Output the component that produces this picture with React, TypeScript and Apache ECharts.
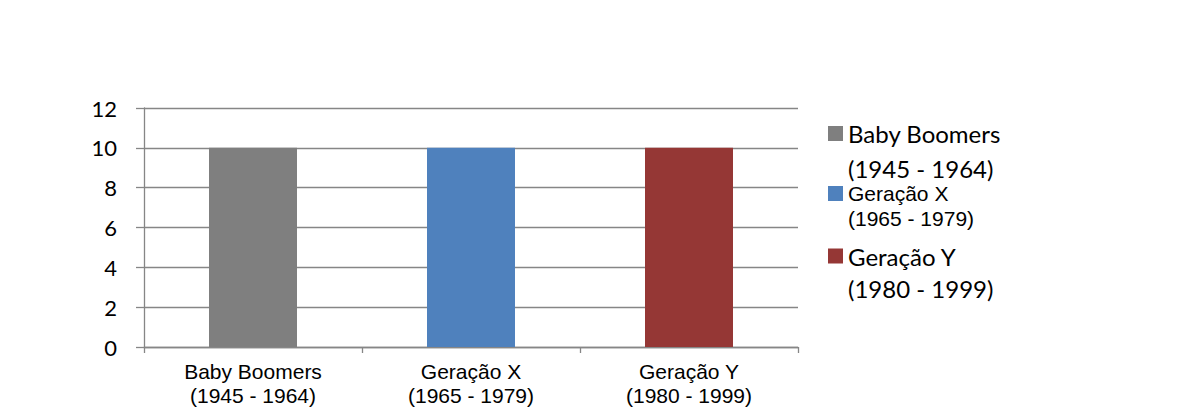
import React, { useEffect, useRef } from "react";
import * as echarts from "echarts";

const categories = ["Baby Boomers\n(1945 - 1964)", "Geração X\n(1965 - 1979)", "Geração Y\n(1980 - 1999)"];
const seriesNames = ["Baby Boomers\n(1945 - 1964)", "Geração X\n(1965 - 1979)", "Geração Y\n(1980 - 1999)"];
const seriesValues: (number | string)[][] = [
  [10, "-", "-"],
  ["-", 10, "-"],
  ["-", "-", 10],
];
const colors = ["#7f7f7f", "#4f81bd", "#953735"];
const yTicks = { min: 0, max: 12, interval: 2 };

export default function App() {
  const ref = useRef<HTMLDivElement>(null);
  useEffect(() => {
    document.body.style.margin = "0";
    const chart = echarts.init(ref.current!, null, { renderer: "svg" });
    const axisColor = "#868686";
    const legendStyles = [
      { top: 86.5, rich: { e: { lineHeight: 35, fontSize: 24, fontFamily: "Lato" }, a: { lineHeight: 35, fontSize: 24, fontFamily: "Lato", color: "#000" } } },
      { top: 158, rich: { e: { lineHeight: 25, fontSize: 21, fontFamily: "Liberation Sans" }, a: { lineHeight: 25, fontSize: 21, fontFamily: "Liberation Sans", color: "#000" } } },
      { top: 212, rich: { e: { lineHeight: 32, fontSize: 24, fontFamily: "Lato" }, a: { lineHeight: 32, fontSize: 24, fontFamily: "Lato", color: "#000" } } },
    ];
    chart.setOption({
      animation: false,
      backgroundColor: "#ffffff",
      grid: { left: 144, right: 381, top: 108, bottom: 67, containLabel: false },
      legend: seriesNames.map((n, i) => ({
        data: [n],
        left: 828,
        top: legendStyles[i].top,
        padding: 0,
        orient: "vertical",
        icon: "rect",
        itemWidth: 15,
        itemHeight: 15,
        selectedMode: false,
        formatter: (name: string) => {
          const parts = name.split("\n");
          return "{e| }\n" + parts.map((p) => "{a|" + p + "}").join("\n");
        },
        textStyle: { rich: legendStyles[i].rich },
      })),
      xAxis: {
        type: "category",
        data: categories,
        axisLine: { lineStyle: { color: axisColor, width: 1.3 } },
        axisTick: { show: true, length: 6, lineStyle: { color: axisColor, width: 1.3 } },
        axisLabel: {
          color: "#000",
          fontFamily: "Liberation Sans",
          fontSize: 21,
          lineHeight: 24,
          margin: 12,
        },
      },
      yAxis: {
        type: "value",
        min: yTicks.min,
        max: yTicks.max,
        interval: yTicks.interval,
        axisLine: { show: true, lineStyle: { color: axisColor, width: 1.3 } },
        axisTick: { show: true, length: 8, lineStyle: { color: axisColor, width: 1.3 } },
        splitLine: { show: true, lineStyle: { color: axisColor, width: 1.3 } },
        axisLabel: { color: "#000", fontFamily: "Lato", fontSize: 22, margin: 27 },
      },
      series: seriesNames.map((n, i) => ({
        name: n,
        type: "bar",
        stack: "all",
        barWidth: 88,
        data: seriesValues[i],
        itemStyle: { color: colors[i] },
      })),
    });
    return () => chart.dispose();
  }, []);
  return <div ref={ref} style={{ position: "absolute", left: 0, top: 0, width: 1179, height: 414 }} />;
}
